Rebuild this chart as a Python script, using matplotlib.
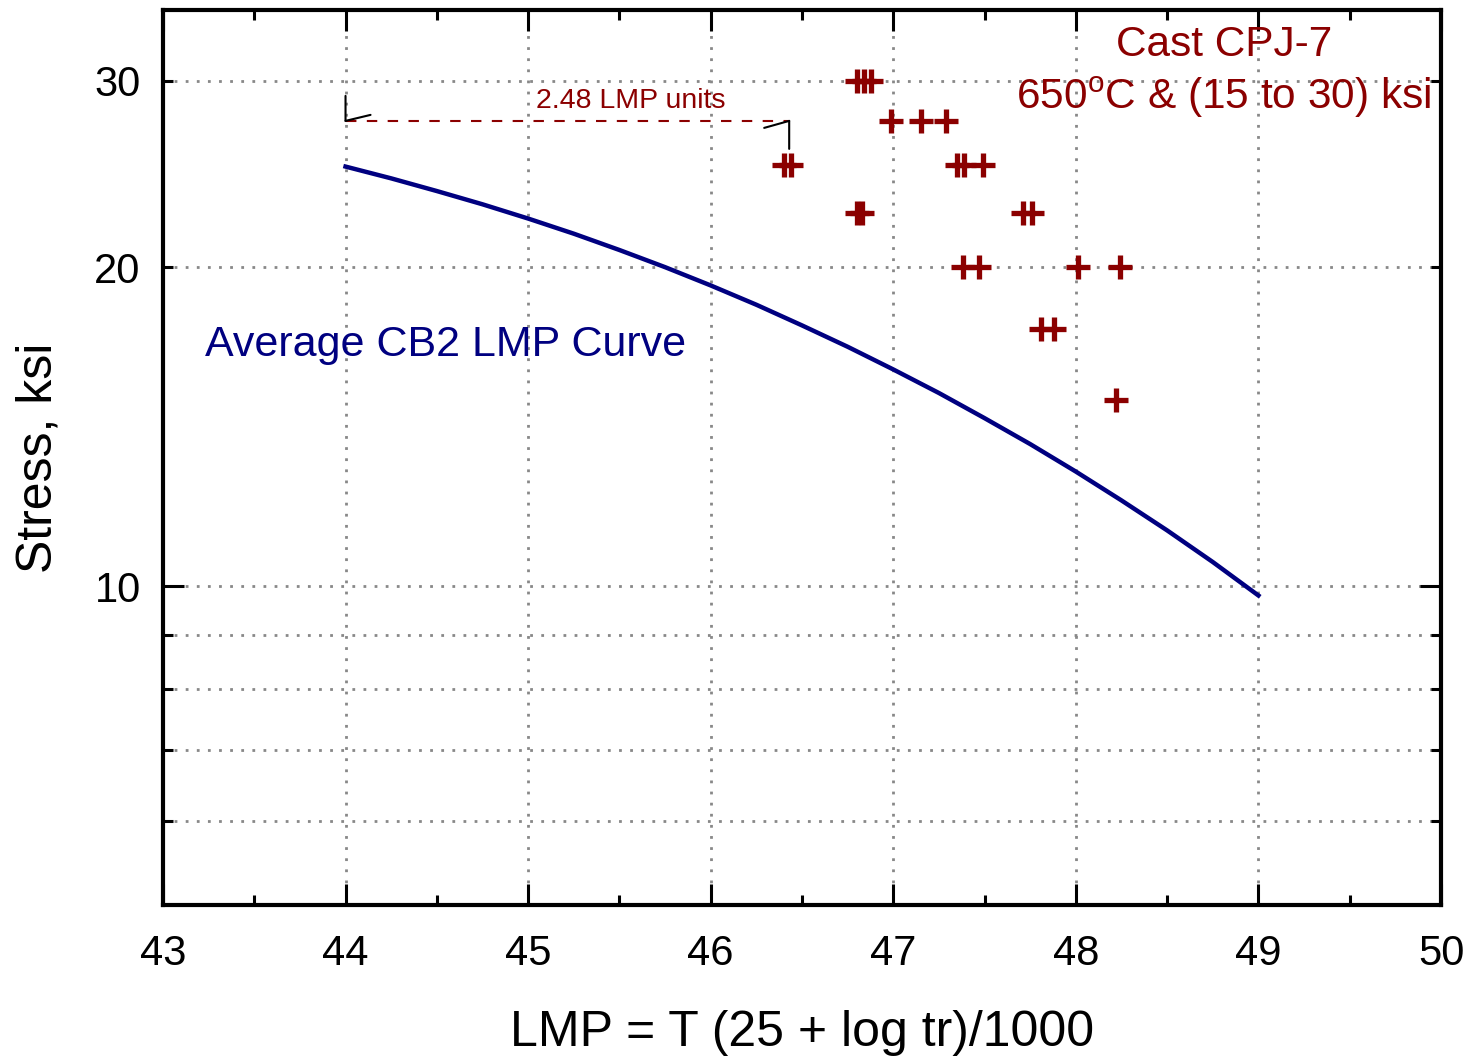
import numpy as np
import matplotlib
matplotlib.use("Agg")
import matplotlib.pyplot as plt
from matplotlib.ticker import FixedLocator

plt.rcParams['font.family'] = ['Liberation Sans', 'DejaVu Sans']

# average CB2 LMP curve
curve_lmp = [44.0, 44.25, 44.5, 44.75, 45.0, 45.25, 45.5, 45.75, 46.0, 46.25, 46.5,
             46.75, 47.0, 47.25, 47.5, 47.75, 48.0, 48.25, 48.5, 48.75, 49.0]
curve_stress = [24.9, 24.27, 23.61, 22.94, 22.24, 21.52, 20.77, 20.01, 19.23, 18.44, 17.63,
                16.83, 16.02, 15.22, 14.41, 13.62, 12.83, 12.05, 11.29, 10.54, 9.8]

# cast CPJ-7 test points
pts_lmp = [46.80, 46.84, 46.88,
           46.99, 47.15, 47.29,
           46.40, 46.44, 47.35, 47.39, 47.49,
           46.80, 46.83, 47.71, 47.76,
           47.38, 47.47, 48.01, 48.24,
           47.81, 47.88,
           48.22]
pts_stress = [30, 30, 30,
              27.5, 27.5, 27.5,
              25, 25, 25, 25, 25,
              22.5, 22.5, 22.5, 22.5,
              20, 20, 20, 20,
              17.5, 17.5,
              15]

arrow_x = [44.0, 46.43]
arrow_y = 27.5
arrow_label_x = 45.56

x_major = [43, 44, 45, 46, 47, 48, 49, 50]
x_minor = [43.5, 44.5, 45.5, 46.5, 47.5, 48.5, 49.5]
y_major = [10]
y_minor = [6, 7, 8, 9, 20, 30]
y_minor_labels = ['', '', '', '', '20', '30']

red = '#8b0000'
navy = '#000080'

fig = plt.figure(figsize=(14.68, 10.6), dpi=100)
ax = fig.add_axes([0.111, 0.1462, 0.8706, 0.8444])
ax.set_yscale('log')
ax.set_xlim(43, 50)
ax.set_ylim(5, 35)

ax.plot(curve_lmp, curve_stress, color=navy, lw=3.2, zorder=3, solid_joinstyle='round')
ax.plot(pts_lmp, pts_stress, ls='none', marker='+', ms=17, mew=3.8, color=red, zorder=4)

# arrow showing the LMP shift
ax.plot(arrow_x, [arrow_y, arrow_y], color=red, lw=1.5, ls=(0, (5, 5)), zorder=3)
for px, dx, dy in [(arrow_x[0], 0, 25), (arrow_x[0], 25, 6), (arrow_x[1], 0, -28), (arrow_x[1], -25, -7)]:
    ax.annotate('', xy=(px, arrow_y), xytext=(dx, dy), textcoords='offset pixels',
                arrowprops=dict(arrowstyle='-', color='black', lw=1.5, shrinkA=0, shrinkB=0))
ax.annotate('2.48 LMP units', xy=(arrow_label_x, arrow_y), xytext=(0, 20),
            textcoords='offset pixels', color=red, fontsize=20.5, ha='center', va='center')

ax.text(0.83, 0.961, 'Cast CPJ-7', transform=ax.transAxes, color=red, fontsize=30.5,
        ha='center', va='center')
ax.text(0.83, 0.902, '650$^\\mathregular{o}$C & (15 to 30) ksi', transform=ax.transAxes,
        color=red, fontsize=30.5, ha='center', va='center')
ax.text(0.033, 0.626, 'Average CB2 LMP Curve', transform=ax.transAxes, color=navy,
        fontsize=31, ha='left', va='center')

ax.xaxis.set_major_locator(FixedLocator(x_major))
ax.xaxis.set_minor_locator(FixedLocator(x_minor))
ax.set_xticklabels([str(v) for v in x_major])
ax.yaxis.set_major_locator(FixedLocator(y_major))
ax.yaxis.set_minor_locator(FixedLocator(y_minor))
ax.set_yticklabels([str(v) for v in y_major])
ax.set_yticklabels(y_minor_labels, minor=True)

ax.tick_params(which='both', direction='in', top=True, right=True, width=2.2, labelsize=30)
ax.tick_params(which='major', length=15)
ax.tick_params(which='minor', length=7)
ax.tick_params(axis='x', which='both', pad=21)
ax.tick_params(axis='y', which='both', pad=16)

grid_kw = dict(color='#888888', lw=2, ls=(0, (1, 3)))
for v in x_major[1:-1]:
    ax.axvline(v, zorder=1, **grid_kw)
for v in y_major + y_minor:
    ax.axhline(v, zorder=1, **grid_kw)

for s in ax.spines.values():
    s.set_linewidth(3)

ax.set_xlabel('LMP = T (25 + log tr)/1000', fontsize=36, labelpad=26)
ax.set_ylabel('Stress, ksi', fontsize=36, labelpad=24)

fig.savefig('out.png', dpi=100)
